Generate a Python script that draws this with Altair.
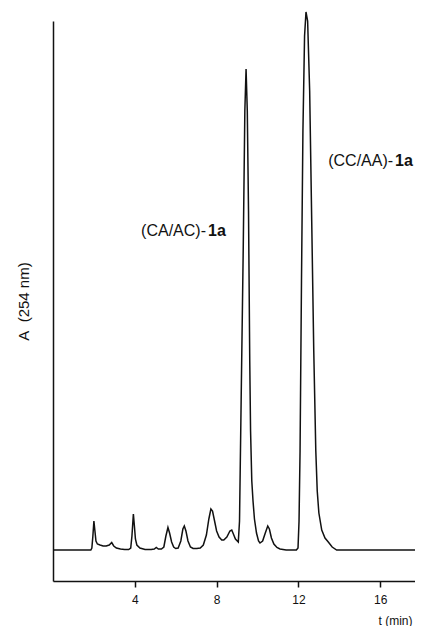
import altair as alt
import pandas as pd

# Chromatogram trace: retention time (min) and absorbance (arbitrary units)
t_vals = [0.0, 1.85, 1.9, 1.95, 2.0, 2.05, 2.1, 2.17, 2.3, 2.45, 2.6, 2.75, 2.87, 2.97, 3.1, 3.3, 3.5, 3.7,
          3.8, 3.86, 3.93, 3.98, 4.03, 4.1, 4.25, 4.5, 4.8, 4.95, 5.05, 5.15, 5.3, 5.42, 5.52, 5.62, 5.7,
          5.8, 5.9, 6.0, 6.12, 6.25, 6.35, 6.42, 6.5, 6.6, 6.72, 6.85, 7.03, 7.2, 7.35, 7.5, 7.62, 7.72,
          7.8, 7.9, 8.0, 8.12, 8.25, 8.35, 8.5, 8.65, 8.74, 8.82, 8.92, 9.06, 9.12, 9.2, 9.3, 9.38, 9.44,
          9.5, 9.56, 9.62, 9.66, 9.72, 9.78, 9.85, 9.95, 10.05, 10.12, 10.25, 10.38, 10.5, 10.58, 10.68,
          10.8, 10.95, 11.1, 11.4, 11.9, 11.98, 12.03, 12.08, 12.15, 12.22, 12.3, 12.37, 12.45, 12.55,
          12.65, 12.75, 12.85, 12.92, 13.0, 13.14, 13.3, 13.46, 13.65, 13.87, 17.7]
a_vals = [31, 31, 33, 45, 60, 50, 40, 37, 36, 35, 35, 36, 38.5, 35, 33, 32, 31.5, 31.5,
          33, 45, 67, 55, 42, 36, 33, 31.5, 31.5, 32, 33.5, 32, 32, 34, 45, 53.5, 48,
          39, 34, 32.5, 33, 40, 52, 55, 50, 40, 34, 32.5, 32.5, 33, 36, 46, 62, 72,
          70, 60, 50, 44, 41, 41, 44, 50, 51, 47, 42, 39, 60, 181, 330, 470, 512,
          470, 370, 220, 150, 100, 80, 62, 48, 40, 38, 40, 48, 55, 52, 43,
          37, 33.5, 32, 31, 31, 33, 60, 130, 300, 450, 545, 569, 560, 490,
          360, 230, 130, 90, 68, 51, 43, 39, 34, 31, 31]

# Peak labels
label_plain = ["(CA/AC)-", "(CC/AA)-"]
label_bold = ["1a", "1a"]
label_t = [7.48, 16.63]
label_a = [350, 420]

trace = pd.DataFrame({"t": t_vals, "A": a_vals})
labels = pd.DataFrame({"t": label_t, "A": label_a, "plain": label_plain, "bold": label_bold})

FONT = "Liberation Sans"

x_enc = alt.X(
    "t:Q",
    scale=alt.Scale(domain=[0, 17.7], nice=False, zero=False),
    axis=alt.Axis(
        values=[4, 8, 12, 16], format="d", grid=False, title="t (min)",
        tickSize=6, tickWidth=1.5, tickColor="#111", domainColor="#111", domainWidth=1.5,
        labelFont=FONT, labelFontSize=12, labelColor="#111", labelPadding=7,
        titleFont=FONT, titleFontSize=12, titleFontWeight="normal", titleColor="#111",
        titleX=325, titleY=43, titleAlign="left", titleBaseline="alphabetic", titleAnchor="start",
    ),
)
y_enc = alt.Y(
    "A:Q",
    scale=alt.Scale(domain=[0, 560], nice=False),
    axis=alt.Axis(
        ticks=False, labels=False, grid=False, title="A\u00a0\u00a0(254 nm)",
        domainColor="#111", domainWidth=1.5,
        titleFont=FONT, titleFontSize=15, titleFontWeight="normal", titleColor="#111",
        titleX=-30, titleY=280, titleBaseline="middle", titleAngle=270,
    ),
)

line = alt.Chart(trace).mark_line(color="#111", strokeWidth=1.5, clip=False).encode(x=x_enc, y=y_enc, order="t:Q")

plain = alt.Chart(labels).mark_text(font=FONT, fontSize=16, align="right", baseline="middle", color="#111").encode(
    x="t:Q", y="A:Q", text="plain:N"
)
bold = alt.Chart(labels).mark_text(font=FONT, fontSize=16, fontWeight="bold", align="left", baseline="middle", dx=2, color="#111").encode(
    x="t:Q", y="A:Q", text="bold:N"
)

chart = alt.layer(line, plain, bold).properties(
    width=362, height=560,
    padding={"left": 45, "top": 13, "right": 0, "bottom": 45},
    autosize=alt.AutoSizeParams(type="none"),
).configure_view(stroke=None)

chart.save("out.html", embed_options={"renderer": "svg", "actions": False})
